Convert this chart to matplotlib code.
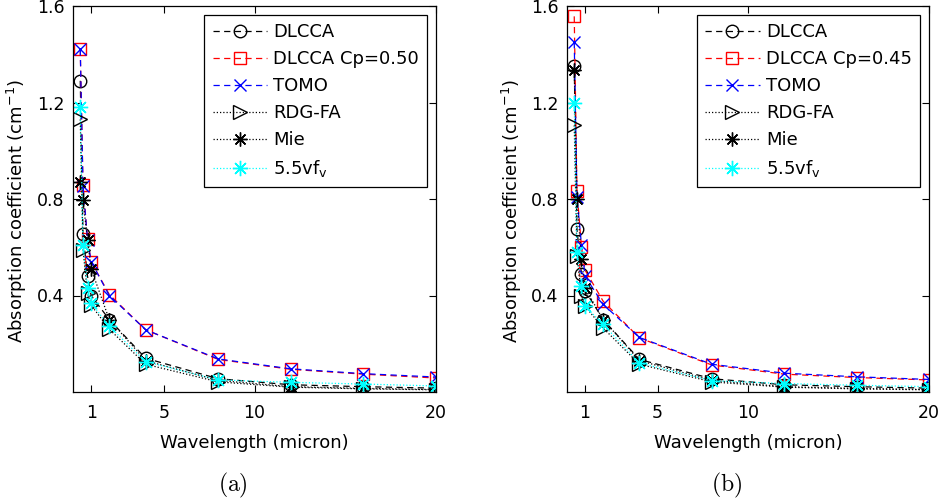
import matplotlib
matplotlib.use("Agg")
import matplotlib.pyplot as plt

# Wavelength (micron)
wavelength = [0.4, 0.55, 0.8, 1.0, 2, 4, 8, 12, 16, 20]

# Panel (a)
a_dlcca = [1.29, 0.655, 0.48, 0.40, 0.30, 0.14, 0.055, 0.030, 0.022, 0.016]
a_cp = [1.42, 0.86, 0.633, 0.54, 0.404, 0.258, 0.135, 0.094, 0.074, 0.058]
a_tomo = [1.42, 0.855, 0.63, 0.54, 0.40, 0.258, 0.137, 0.096, 0.076, 0.062]
a_rdg = [1.13, 0.59, 0.41, 0.36, 0.26, 0.115, 0.042, 0.020, 0.013, 0.009]
a_mie = [0.87, 0.795, 0.63, 0.51, 0.30, 0.13, 0.048, 0.022, 0.015, 0.010]
a_vf = [1.18, 0.61, 0.433, 0.37, 0.272, 0.126, 0.050, 0.040, 0.033, 0.025]

# Panel (b)
b_dlcca = [1.35, 0.675, 0.488, 0.42, 0.30, 0.135, 0.055, 0.030, 0.022, 0.016]
b_cp = [1.557, 0.835, 0.60, 0.505, 0.376, 0.224, 0.112, 0.074, 0.060, 0.050]
b_tomo = [1.45, 0.81, 0.61, 0.48, 0.363, 0.226, 0.115, 0.078, 0.063, 0.052]
b_rdg = [1.105, 0.565, 0.40, 0.355, 0.265, 0.115, 0.042, 0.020, 0.013, 0.009]
b_mie = [1.335, 0.80, 0.55, 0.43, 0.30, 0.13, 0.048, 0.022, 0.015, 0.010]
b_vf = [1.196, 0.58, 0.439, 0.355, 0.28, 0.12, 0.047, 0.035, 0.028, 0.022]

x_ticks = [1, 5, 10, 20]
y_ticks = [0.4, 0.8, 1.2, 1.6]

ASTERISK = (8, 2, 0)
DASHED = (0, (5, 3.5))
DOTTED = (0, (1, 1.6))


def draw_panel(ax, dlcca, cp, tomo, rdg, mie, vf, cp_label):
    ms = 9
    lw = 0.9
    ax.plot(wavelength, dlcca, ls=DASHED, color="black", marker="o", ms=ms,
            mfc="none", lw=lw, label="DLCCA")
    ax.plot(wavelength, cp, ls=DASHED, color="red", marker="s", ms=ms,
            mfc="none", lw=lw, label=cp_label)
    ax.plot(wavelength, tomo, ls=DASHED, color="blue", marker="x", ms=ms,
            lw=lw, label="TOMO")
    ax.plot(wavelength, rdg, ls=DOTTED, color="black", marker=">", ms=ms + 1,
            mfc="none", lw=lw, label="RDG-FA")
    ax.plot(wavelength, mie, ls=DOTTED, color="black", marker=ASTERISK, ms=ms + 1,
            lw=lw, label="Mie")
    ax.plot(wavelength, vf, ls=DOTTED, color="cyan", marker=ASTERISK, ms=ms + 2,
            lw=lw, label=r"5.5vf$_{\mathrm{v}}$")

    ax.set_xlim(0, 20)
    ax.set_ylim(0, 1.6)
    ax.set_xticks(x_ticks)
    ax.set_xticklabels([str(t) for t in x_ticks])
    ax.set_yticks(y_ticks)
    ax.set_yticklabels([f"{t:.1f}" for t in y_ticks])
    ax.tick_params(direction="in", top=True, right=True, length=5,
                   labelsize=12.5, width=0.8)
    ax.tick_params(axis="x", pad=9)
    ax.tick_params(axis="y", pad=6)
    for sp in ax.spines.values():
        sp.set_linewidth(0.9)
    ax.set_xlabel("Wavelength (micron)", fontsize=13, labelpad=8)
    ax.set_ylabel(r"Absorption coefficient (cm$^{-1}$)", fontsize=13)
    ax.yaxis.set_label_coords(-0.12, 0.47)
    leg = ax.legend(loc="upper right", fontsize=13, frameon=True, fancybox=False,
                    edgecolor="black", framealpha=1, borderaxespad=0.5,
                    handlelength=3.0, handletextpad=0.35, labelspacing=0.5,
                    borderpad=0.45)
    leg.get_frame().set_linewidth(0.9)


fig = plt.figure(figsize=(9.41, 5.01), dpi=100, facecolor="white")
ax1 = fig.add_axes([73 / 941, 1 - 392 / 501, (436 - 73) / 941, (392 - 6) / 501])
ax2 = fig.add_axes([567 / 941, 1 - 392 / 501, (929 - 567) / 941, (392 - 6) / 501])

draw_panel(ax1, a_dlcca, a_cp, a_tomo, a_rdg, a_mie, a_vf, "DLCCA Cp=0.50")
draw_panel(ax2, b_dlcca, b_cp, b_tomo, b_rdg, b_mie, b_vf, "DLCCA Cp=0.45")

fig.text(233 / 941, 1 - 485 / 501, r"$\mathrm{(a)}$", math_fontfamily="cm",
         fontsize=17, ha="center", va="center")
fig.text(727 / 941, 1 - 485 / 501, r"$\mathrm{(b)}$", math_fontfamily="cm",
         fontsize=17, ha="center", va="center")

fig.savefig("out.png", dpi=100, facecolor="white")
